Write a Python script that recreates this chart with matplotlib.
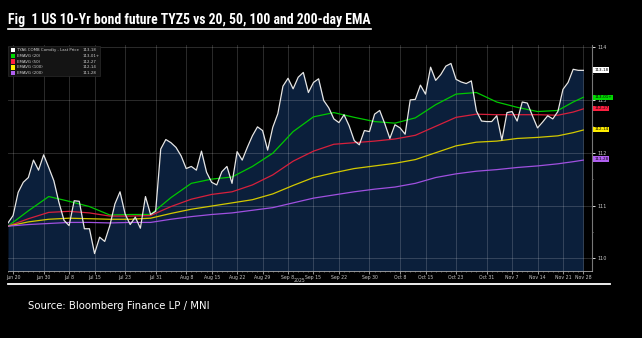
import matplotlib
matplotlib.use("Agg")
import matplotlib.pyplot as plt
import numpy as np
import pandas as pd
from matplotlib.lines import Line2D
from matplotlib.patches import Rectangle
from matplotlib import font_manager

# ---------------- data ----------------
holidays = ["2025-06-19", "2025-07-04", "2025-09-01", "2025-11-27"]
dates = pd.bdate_range("2025-06-18", "2025-11-28")
dates = dates[~dates.isin(pd.to_datetime(holidays))]

price = [
    110.67, 110.81, 111.25, 111.44, 111.53, 111.86, 111.67, 111.96, 111.72, 111.47,
    111.06, 110.72, 110.62, 111.09, 111.08, 110.56, 110.56, 110.09, 110.40, 110.32,
    110.62, 111.03, 111.26, 110.84, 110.64, 110.78, 110.57, 111.17, 110.83, 110.89,
    112.07, 112.25, 112.19, 112.10, 111.94, 111.70, 111.74, 111.67, 112.03, 111.63,
    111.44, 111.39, 111.64, 111.74, 111.42, 112.02, 111.86, 112.10, 112.32, 112.49,
    112.42, 112.05, 112.48, 112.74, 113.26, 113.41, 113.21, 113.43, 113.52, 113.14,
    113.33, 113.40, 112.99, 112.85, 112.64, 112.57, 112.72, 112.51, 112.23, 112.15,
    112.42, 112.40, 112.73, 112.80, 112.55, 112.27, 112.53, 112.47, 112.35, 113.00,
    113.01, 113.28, 113.11, 113.62, 113.37, 113.48, 113.64, 113.69, 113.39, 113.34,
    113.31, 113.36, 112.79, 112.60, 112.59, 112.59, 112.70, 112.24, 112.76, 112.78,
    112.60, 112.96, 112.94, 112.70, 112.47, 112.58, 112.70, 112.64, 112.78, 113.20,
    113.33, 113.58, 113.56, 113.56,
]

# EMA readings at sampled trading-day positions
ema_idx = [0, 4, 8, 12, 16, 20, 24, 28, 32, 36, 40, 44, 48, 52, 56, 60, 64, 68,
           72, 76, 80, 84, 88, 92, 96, 100, 104, 108, 111, 113]
ema20 = [110.61, 110.90, 111.17, 111.08, 110.98, 110.82, 110.83, 110.83, 111.15, 111.42,
         111.50, 111.54, 111.74, 111.99, 112.40, 112.68, 112.76, 112.67, 112.59, 112.56,
         112.66, 112.91, 113.11, 113.14, 112.96, 112.86, 112.78, 112.80, 112.96, 113.05]
ema50 = [110.61, 110.75, 110.87, 110.89, 110.86, 110.80, 110.80, 110.81, 110.98, 111.12,
         111.21, 111.26, 111.39, 111.58, 111.84, 112.03, 112.16, 112.19, 112.22, 112.26,
         112.33, 112.50, 112.67, 112.73, 112.72, 112.72, 112.72, 112.71, 112.77, 112.83]
ema100 = [110.61, 110.69, 110.74, 110.76, 110.75, 110.74, 110.74, 110.76, 110.85, 110.93,
          110.99, 111.05, 111.11, 111.22, 111.38, 111.53, 111.62, 111.70, 111.75, 111.80,
          111.87, 112.00, 112.13, 112.20, 112.22, 112.27, 112.29, 112.32, 112.38, 112.43]
ema200 = [110.61, 110.64, 110.66, 110.68, 110.68, 110.67, 110.68, 110.68, 110.74, 110.79,
          110.83, 110.86, 110.91, 110.96, 111.05, 111.14, 111.20, 111.26, 111.31, 111.35,
          111.42, 111.53, 111.60, 111.65, 111.68, 111.72, 111.75, 111.79, 111.83, 111.86]

series_names = ["TYA6 COMB Comdty - Last Price", "EMAVG (20)", "EMAVG (50)",
                "EMAVG (100)", "EMAVG (200)"]
last_labels = ["113-18", "113-01+", "112-27", "112-14", "111-28"]
last_values = [113.5625, 113.047, 112.84, 112.44, 111.875]

tick_dates = ["2025-06-20", "2025-06-30", "2025-07-08", "2025-07-15", "2025-07-23",
              "2025-07-31", "2025-08-08", "2025-08-15", "2025-08-22", "2025-08-29",
              "2025-09-08", "2025-09-15", "2025-09-22", "2025-09-30", "2025-10-08",
              "2025-10-15", "2025-10-23", "2025-10-31", "2025-11-07", "2025-11-14",
              "2025-11-21", "2025-11-28"]
y_ticks = [110, 111, 112, 113, 114]

title = "Fig  1 US 10-Yr bond future TYZ5 vs 20, 50, 100 and 200-day EMA"
source = "Source: Bloomberg Finance LP / MNI"

# ---------------- style ----------------
colors = ["#e6e6e6", "#00c800", "#d8203c", "#d2c800", "#a050e0"]
box_colors = ["#ffffff", "#00d800", "#ff2040", "#ffee00", "#b060f0"]
fill_color = "#0b1f3b"


def pick_family(cands, default="DejaVu Sans"):
    for c in cands:
        try:
            font_manager.findfont(font_manager.FontProperties(family=c),
                                  fallback_to_default=False)
            return c
        except Exception:
            pass
    return default


title_family = pick_family(["Liberation Sans Narrow", "Roboto Condensed",
                            "Open Sans Condensed", "DejaVu Sans Condensed",
                            "Liberation Sans"])

W, H = 642, 338
fig = plt.figure(figsize=(W / 100, H / 100), dpi=100, facecolor="black")


def fx(px):
    return px / W


def fy(py):
    return 1 - py / H


ax = fig.add_axes([fx(8), fy(271), fx(592) - fx(8), fy(45) - fy(271)])
ax.set_facecolor("black")

x = np.arange(len(dates))
ylo, yhi = 109.76, 114.04
ax.fill_between(x, price, ylo, color=fill_color, lw=0, zorder=1)

tick_pos = [dates.get_loc(pd.Timestamp(d)) for d in tick_dates]
for tp in tick_pos:
    ax.axvline(tp, color="white", alpha=0.17, lw=0.7, zorder=2)
for yt in y_ticks:
    ax.axhline(yt, color="white", alpha=0.17, lw=0.7, zorder=2)

ax.plot(x, price, color=colors[0], lw=0.9, zorder=6)
for vals, c in zip([ema20, ema50, ema100, ema200], colors[1:]):
    ax.plot(ema_idx, vals, color=c, lw=0.9, zorder=5)

ax.set_xlim(0, 114.7)
ax.set_ylim(ylo, yhi)

ax.set_xticks(tick_pos)
ax.set_xticklabels([pd.Timestamp(d).strftime("%b %-d") for d in tick_dates],
                   fontsize=3.3, color="#c8c8c8")
ax.set_xticks(x, minor=True)
ax.tick_params(axis="x", which="major", length=2, width=0.5, color="#cccccc", pad=1)
ax.tick_params(axis="x", which="minor", length=1, width=0.4, color="#aaaaaa")

ax.yaxis.tick_right()
ax.set_yticks(y_ticks)
ax.set_yticklabels([str(v) for v in y_ticks], fontsize=3.5, color="#c8c8c8")
ax.set_yticks([110.5, 111.5, 112.5, 113.5], minor=True)
ax.tick_params(axis="y", which="major", length=2, width=0.6, color="white", pad=2)
ax.tick_params(axis="y", which="minor", length=1, width=0.5, color="#aaaaaa")

for s in ["left", "top"]:
    ax.spines[s].set_visible(False)
ax.spines["right"].set_color("#777777")
ax.spines["right"].set_linewidth(0.8)
ax.spines["bottom"].set_color("#aaaaaa")
ax.spines["bottom"].set_linewidth(0.6)

fig.text(fx(299), fy(281), "2025", fontsize=3.3, color="#c8c8c8", ha="center", va="center")

# last value boxes
for lab, val, bc in zip(last_labels, last_values, box_colors):
    ax.annotate(lab, xy=(1, val), xycoords=("axes fraction", "data"),
                xytext=(1.6, 0), textcoords="offset points", fontsize=3.0,
                color="black", ha="left", va="center", zorder=10,
                bbox=dict(boxstyle="square,pad=0.2", fc=bc, ec="none"),
                annotation_clip=False)

# legend box (top-left)
fig.patches.append(Rectangle((fx(8), fy(76)), fx(100) - fx(8), fy(46) - fy(76),
                             transform=fig.transFigure, fc="#141414", ec="#2a2a2a",
                             lw=0.5, zorder=8))
for i, (name, lab, c) in enumerate(zip(series_names, last_labels, colors)):
    yy = fy(50 + i * 5.8)
    fig.patches.append(Rectangle((fx(11), yy - 2.2 / H), 4.4 / W, 4.4 / H,
                                 transform=fig.transFigure, fc=box_colors[i], ec="none",
                                 zorder=9))
    fig.text(fx(17), yy, name, fontsize=2.75, color="#d0d0d0", va="center", ha="left",
             zorder=10)
    fig.text(fx(83), yy, lab, fontsize=2.75, color="#d0d0d0", va="center", ha="left",
             zorder=10)

# title with underline, sized to the reference width
target_w = 365
t = fig.text(fx(8), fy(20), title, fontsize=10, fontweight="bold", color="white",
             ha="left", va="center", family=title_family)
fig.canvas.draw()
w = t.get_window_extent().width
t.set_fontsize(min(11.5, 10 * target_w / w))
fig.canvas.draw()
bb = t.get_window_extent().transformed(fig.transFigure.inverted())
fig.add_artist(Line2D([bb.x0, bb.x1], [fy(29), fy(29)], color="white", lw=1.2))

# bottom rule and source
fig.add_artist(Line2D([fx(8), fx(610)], [fy(283.5), fy(283.5)], color="white", lw=1.3))
fig.text(fx(28), fy(306), source, fontsize=7.3, color="white", ha="left", va="center")

fig.savefig("out.png", dpi=100, facecolor="black")
